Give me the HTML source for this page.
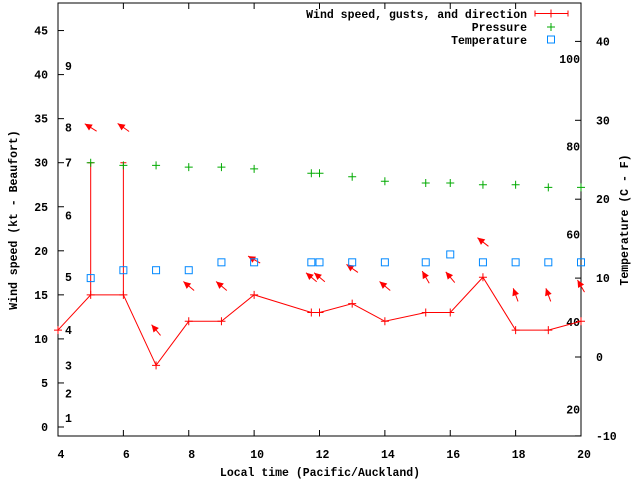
<!DOCTYPE html>
<html><head><meta charset="utf-8"><style>
html,body{margin:0;padding:0;background:#fff}
svg text{font-family:"Liberation Mono",monospace;font-weight:bold;font-size:11.5px;fill:#000}
</style></head><body>
<svg id="chart" width="640" height="480" xmlns="http://www.w3.org/2000/svg"></svg>
<script>
const windX=[4,5,6,7,8,9,10,11.75,12,13,14,15.25,16,17,18,19,20];
const windKt=[11,15,15,7,12,12,15,13,13,14,12,13,13,17,11,11,12];
const gustX=[5,6];
const gustKt=[30,30];
const gustBase=[15,15];
const arrowX=[5,6,7,8,9,10,11.75,12,13,14,15.25,16,17,18,19,20];
const arrowY=[34,34,11,16,16,19,17,17,18,16,17,17,21,15,15,16];
const arrowDir=[-32,-35,-50,-40,-40,-30,-40,-40,-35,-40,-60,-50,-38,-70,-70,-60];
const presX=[5,6,7,8,9,10,11.75,12,13,14,15.25,16,17,18,19,20];
const presVal=[30.0,29.7,29.7,29.5,29.5,29.3,28.8,28.8,28.4,27.9,27.7,27.7,27.5,27.5,27.2,27.2];
const tempX=[5,6,7,8,9,10,11.75,12,13,14,15.25,16,17,18,19,20];
const tempC=[10,11,11,11,12,12,12,12,12,12,12,13,12,12,12,12];
const xTicks=[4,6,8,10,12,14,16,18,20];
const yTicks=[0,5,10,15,20,25,30,35,40,45];
const cTicks=[-10,0,10,20,30,40];
const fTicks=[20,40,60,80,100];
const bft=[1,2,3,4,5,6,7,8,9];
const bftKt=[1,3.8,7,11,17,24,30,34,41];

const L=58,R=581,T=3,B=436;
const X=v=>L+(v-4)*(R-L)/16;
const Y=v=>427-v*8.81;
const YC=c=>357-c*7.89;
const YF=f=>YC((f-32)*5/9);
const svg=document.getElementById('chart');
const NS='http://www.w3.org/2000/svg';
function el(t,a,p){const e=document.createElementNS(NS,t);for(const k in a)e.setAttribute(k,a[k]);(p||svg).appendChild(e);return e;}
function txt(x,y,s,anchor,name){const e=el('text',{x:x,y:y,'text-anchor':anchor});e.textContent=s;


return e;}

const frame=el('rect',{x:L,y:T,width:R-L,height:B-T,fill:'none',stroke:'#000','stroke-width':1});



xTicks.forEach(v=>{
  const t=el('path',{d:`M${X(v)},${B}v-6M${X(v)},${T}v6`,stroke:'#000'});
  
  
  txt(X(v)+3,458,String(v),'middle','x-tick-label');
});
yTicks.forEach(v=>{
  const t=el('path',{d:`M${L},${Y(v)}h6`,stroke:'#000'});
  
  
  txt(L-10,Y(v)+4,String(v),'end','y-tick-label');
});
cTicks.forEach(v=>{
  const t=el('path',{d:`M${R},${YC(v)}h-6`,stroke:'#000'});
  
  
  txt(596,YC(v)+4,String(v),'start','y2-tick-label');
});
fTicks.forEach(v=>{txt(580,YF(v)+4,String(v),'end','fahrenheit-label');});
bft.forEach((b,i)=>{txt(65,Y(bftKt[i])+4,String(b),'start','beaufort-label');});

txt(320,476,'Local time (Pacific/Auckland)','middle','x-axis-title');
const yt=txt(0,0,'Wind speed (kt - Beaufort)','middle','y-axis-title');
yt.setAttribute('transform','translate(17,220) rotate(-90)');
const yt2=txt(0,0,'Temperature (C - F)','middle','y2-axis-title');
yt2.setAttribute('transform','translate(628,220) rotate(-90)');

gustX.forEach((g,i)=>{
  const p=el('path',{d:`M${X(g)},${Y(gustBase[i])}V${Y(gustKt[i])}M${X(g)-3},${Y(gustKt[i])}h6`,stroke:'#f00',fill:'none'});
  
  
});
const pl=el('polyline',{points:windX.map((x,i)=>X(x)+','+Y(windKt[i])).join(' '),fill:'none',stroke:'#f00'});


windX.forEach((x,i)=>{
  const p=el('path',{d:`M${X(x)-4},${Y(windKt[i])}h8M${X(x)},${Y(windKt[i])-4}v8`,stroke:'#f00'});
  
  
});
arrowX.forEach((x,i)=>{
  const a=(180-arrowDir[i])*Math.PI/180;
  const len=14,cx=X(x),cy=Y(arrowY[i]);
  const hx=cx+Math.cos(a)*len/2,hy=cy+Math.sin(a)*len/2;
  const tx=cx-Math.cos(a)*len/2,ty=cy-Math.sin(a)*len/2;
  const g=el('g',{});
  
  
  el('line',{x1:tx,y1:ty,x2:hx,y2:hy,stroke:'#f00'},g);
  const w=0.45,hl=8;
  const p1x=hx-Math.cos(a-w)*hl,p1y=hy-Math.sin(a-w)*hl,p2x=hx-Math.cos(a+w)*hl,p2y=hy-Math.sin(a+w)*hl;
  el('polygon',{points:`${hx},${hy} ${p1x},${p1y} ${p2x},${p2y}`,fill:'#f00'},g);
});
presX.forEach((x,i)=>{
  const p=el('path',{d:`M${X(x)-4},${Y(presVal[i])}h8M${X(x)},${Y(presVal[i])-4}v8`,stroke:'#0a0'});
  
  
});
tempX.forEach((x,i)=>{
  const r=el('rect',{x:X(x)-3.5,y:YC(tempC[i])-3.5,width:7,height:7,fill:'none',stroke:'#08f'});
  
  
});
const lg=el('g',{});


txt(527,18,'Wind speed, gusts, and direction','end','legend-wind-label');
txt(527,31,'Pressure','end','legend-pressure-label');
txt(527,44,'Temperature','end','legend-temperature-label');
el('path',{d:'M535,13.5h33M535,10.5v6M568,10.5v6M551,9.5v8',stroke:'#f00'},lg);
el('path',{d:'M547,27h8M551,23v8',stroke:'#0a0'},lg);
el('rect',{x:547.5,y:36,width:7,height:7,fill:'none',stroke:'#08f'},lg);
</script>
</body></html>
